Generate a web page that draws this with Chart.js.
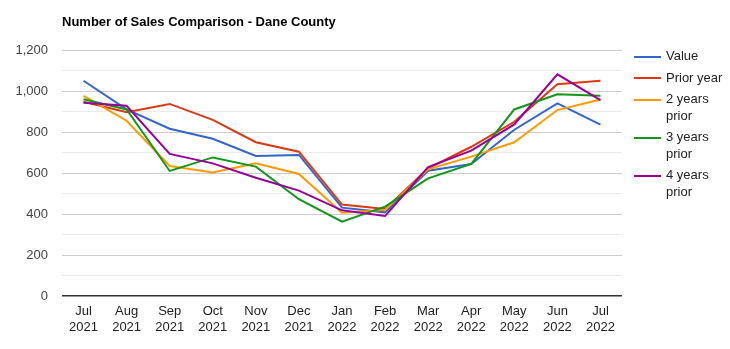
<!DOCTYPE html>
<html>
<head>
<meta charset="utf-8">
<script src="https://cdn.jsdelivr.net/npm/chart.js@4.4.1/dist/chart.umd.min.js"></script>
<style>
  body { margin: 0; background: #fff; font-family: "Liberation Sans", Arial, sans-serif; }
  #wrap { position: relative; width: 730px; height: 349px; }
  #legend { position: absolute; left: 634px; top: 48px; font-size: 13px; color: #222; }
  .item { display: flex; align-items: flex-start; margin-bottom: 5px; line-height: 16.5px; }
  .swatch { width: 27px; height: 2px; margin-top: 7.5px; margin-right: 5px; flex: none; }
  .txt { max-width: 64px; }
</style>
</head>
<body>
<div id="wrap">
  <canvas id="salesChart" width="730" height="349"></canvas>
  <div id="legend"></div>
</div>
<script>
// Monthly sales, Dane County
let months = [['Jul', '2021'], ['Aug', '2021'], ['Sep', '2021'], ['Oct', '2021'], ['Nov', '2021'], ['Dec', '2021'],
              ['Jan', '2022'], ['Feb', '2022'], ['Mar', '2022'], ['Apr', '2022'], ['May', '2022'], ['Jun', '2022'], ['Jul', '2022']];

let current     = [1050, 910, 816, 767, 683, 688, 431, 408, 611, 644, 811, 940, 836];
let priorYear   = [948, 897, 937, 859, 750, 704, 446, 424, 623, 728, 850, 1033, 1050];
let twoPrior    = [976, 855, 634, 602, 647, 595, 406, 420, 618, 680, 750, 907, 959];
let threePrior  = [960, 910, 610, 676, 631, 472, 363, 436, 574, 644, 910, 984, 977];
let fourPrior   = [943, 928, 693, 647, 577, 514, 418, 390, 629, 709, 837, 1081, 956];

let seriesNames = ['Value', 'Prior year', '2 years prior', '3 years prior', '4 years prior'];
let colors = ['#3366cc', '#dc3912', '#ff9900', '#109618', '#990099'];

let ctx = document.querySelector('#salesChart').getContext('2d');

// title drawn over the left edge of the plot area
let titlePlugin = {
    id: 'leftTitle',
    afterDraw(chart) {
        let c = chart.ctx;
        c.save();
        c.font = 'bold 13px "Liberation Sans", Arial, sans-serif';
        c.fillStyle = '#000';
        c.textBaseline = 'middle';
        c.fillText('Number of Sales Comparison - Dane County', chart.chartArea.left, 22);
        c.restore();
    }
};

let salesChart = new Chart(ctx, {
    type: 'line',
    data: {
        labels: months,
        datasets: [current, priorYear, twoPrior, threePrior, fourPrior].map((d, i) => ({
            label: seriesNames[i],
            data: d,
            borderColor: colors[i],
            backgroundColor: colors[i],
            borderWidth: 2,
            pointRadius: 0,
            tension: 0,
            fill: false
        })).reverse()
    },
    options: {
        responsive: false,
        animation: false,
        layout: { padding: { top: 50, right: 108, left: 0, bottom: 0 } },
        plugins: {
            legend: { display: false },
            tooltip: { enabled: false }
        },
        scales: {
            x: {
                offset: true,
                grid: { display: false, drawTicks: false },
                border: { display: false },
                ticks: {
                    color: '#222',
                    font: { family: '"Liberation Sans", Arial, sans-serif', size: 13 },
                    padding: 8,
                    maxRotation: 0,
                    autoSkip: false
                },
                afterFit: (scale) => { scale.height = 53; }
            },
            y: {
                min: 0,
                max: 1200,
                grid: {
                    drawTicks: false,
                    color: (c) => c.tick.value === 0 ? '#333' : (c.tick.value % 200 === 0 ? '#cccccc' : '#ebebeb'),
                    lineWidth: (c) => c.tick.value === 0 ? 1.5 : 1
                },
                border: { display: false },
                ticks: {
                    stepSize: 100,
                    color: '#444',
                    font: { family: '"Liberation Sans", Arial, sans-serif', size: 13 },
                    padding: 14,
                    callback: (v) => v % 200 === 0 ? v.toLocaleString('en-US') : ''
                },
                afterFit: (scale) => { scale.width = 62; }
            }
        }
    },
    plugins: [titlePlugin]
});

// legend on the right, built from the dataset names
let legend = document.querySelector('#legend');
seriesNames.forEach((name, i) => {
    let item = document.createElement('div');
    item.className = 'item';
    item.innerHTML = '<span class="swatch" style="background:' + colors[i] + '"></span><span class="txt">' + name + '</span>';
    legend.appendChild(item);
});
</script>
</body>
</html>
